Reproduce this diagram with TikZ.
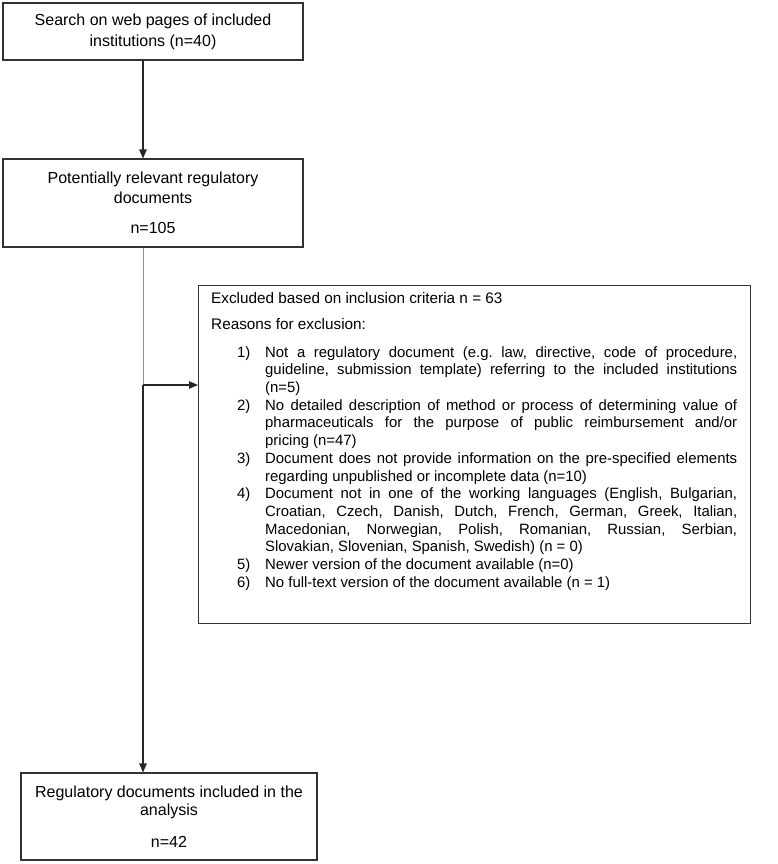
\documentclass[tikz,border=0pt]{standalone}
\usepackage{fontspec}
\setmainfont{Liberation Sans}
\usetikzlibrary{arrows.meta}
\newcommand{\exitem}[2]{\par\hangindent=54pt\hangafter=1\noindent\hspace*{26pt}\makebox[28pt][l]{#1}#2}
\begin{document}
\begin{tikzpicture}[x=1pt,y=-1pt,
  box/.style={draw=black!80, line width=1.1pt, fill=white, inner sep=0pt, align=center},
  bigtxt/.style={font=\fontsize{16}{20}\selectfont},
  conn/.style={draw=black!85, line width=1.1pt},
  tip/.style={-{Triangle[length=9pt,width=7.5pt]}}]
\useasboundingbox (0,0) rectangle (778,864);
\fill[white] (0,0) rectangle (778,864);

\node[box, bigtxt, minimum width=300pt, minimum height=57pt] (b1) at (153,31.5)
  {Search on web pages of included\\[1pt] institutions (n=40)};
\node[box, bigtxt, minimum width=300pt, minimum height=88pt] (b2) at (153,203)
  {Potentially relevant regulatory\\ documents\\[10pt] n=105};
\node[box, bigtxt, minimum width=296pt, minimum height=87pt] (b4) at (169,816.5)
  {Regulatory documents included in the\\[-2pt] analysis\\[12pt] n=42};
\node[box, anchor=north west, minimum width=552pt, minimum height=338pt] (b3) at (198,285) {};
\node[anchor=north west, inner sep=0pt, text width=526pt, align=justify,
      font=\fontsize{14.9}{17.7}\selectfont] (b3t) at (211,292.5)
  {\frenchspacing\hyphenpenalty=10000 \exhyphenpenalty=10000 \tolerance=10000
   \noindent{\fontsize{15.3}{17.7}\selectfont Excluded based on inclusion criteria n = 63}\par
   \vspace{8.5pt}\noindent{\fontsize{15.3}{17.7}\selectfont Reasons for exclusion:}\par
   \vspace{9.5pt}%
   \exitem{1)}{Not a regulatory document (e.g. law, directive, code of procedure,\linebreak guideline, submission template) referring to the included institutions\linebreak (n=5)}
   \exitem{2)}{No detailed description of method or process of determining value of\linebreak pharmaceuticals for the purpose of public reimbursement and/or\linebreak pricing (n=47)}
   \exitem{3)}{Document does not provide information on the pre-specified elements\linebreak regarding unpublished or incomplete data (n=10)}
   \exitem{4)}{Document not in one of the working languages (English, Bulgarian,\linebreak Croatian, Czech, Danish, Dutch, French, German, Greek, Italian,\linebreak Macedonian, Norwegian, Polish, Romanian, Russian, Serbian,\linebreak Slovakian, Slovenian, Spanish, Swedish) (n = 0)}
   \exitem{5)}{Newer version of the document available (n=0)}
   \exitem{6)}{No full-text version of the document available (n = 1)}\par};

\coordinate (vx) at (143,0);
\coordinate (br) at (143,385);
\draw[conn, tip] (b1.south -| vx) -- (b2.north -| vx);
\draw[conn, draw=black!45, line width=0.9pt] (b2.south -| vx) -- (br);
\draw[conn, tip] (br) -- (b4.north -| vx);
\draw[conn, tip] (br) -- (br -| b3.west);
\end{tikzpicture}
\end{document}
